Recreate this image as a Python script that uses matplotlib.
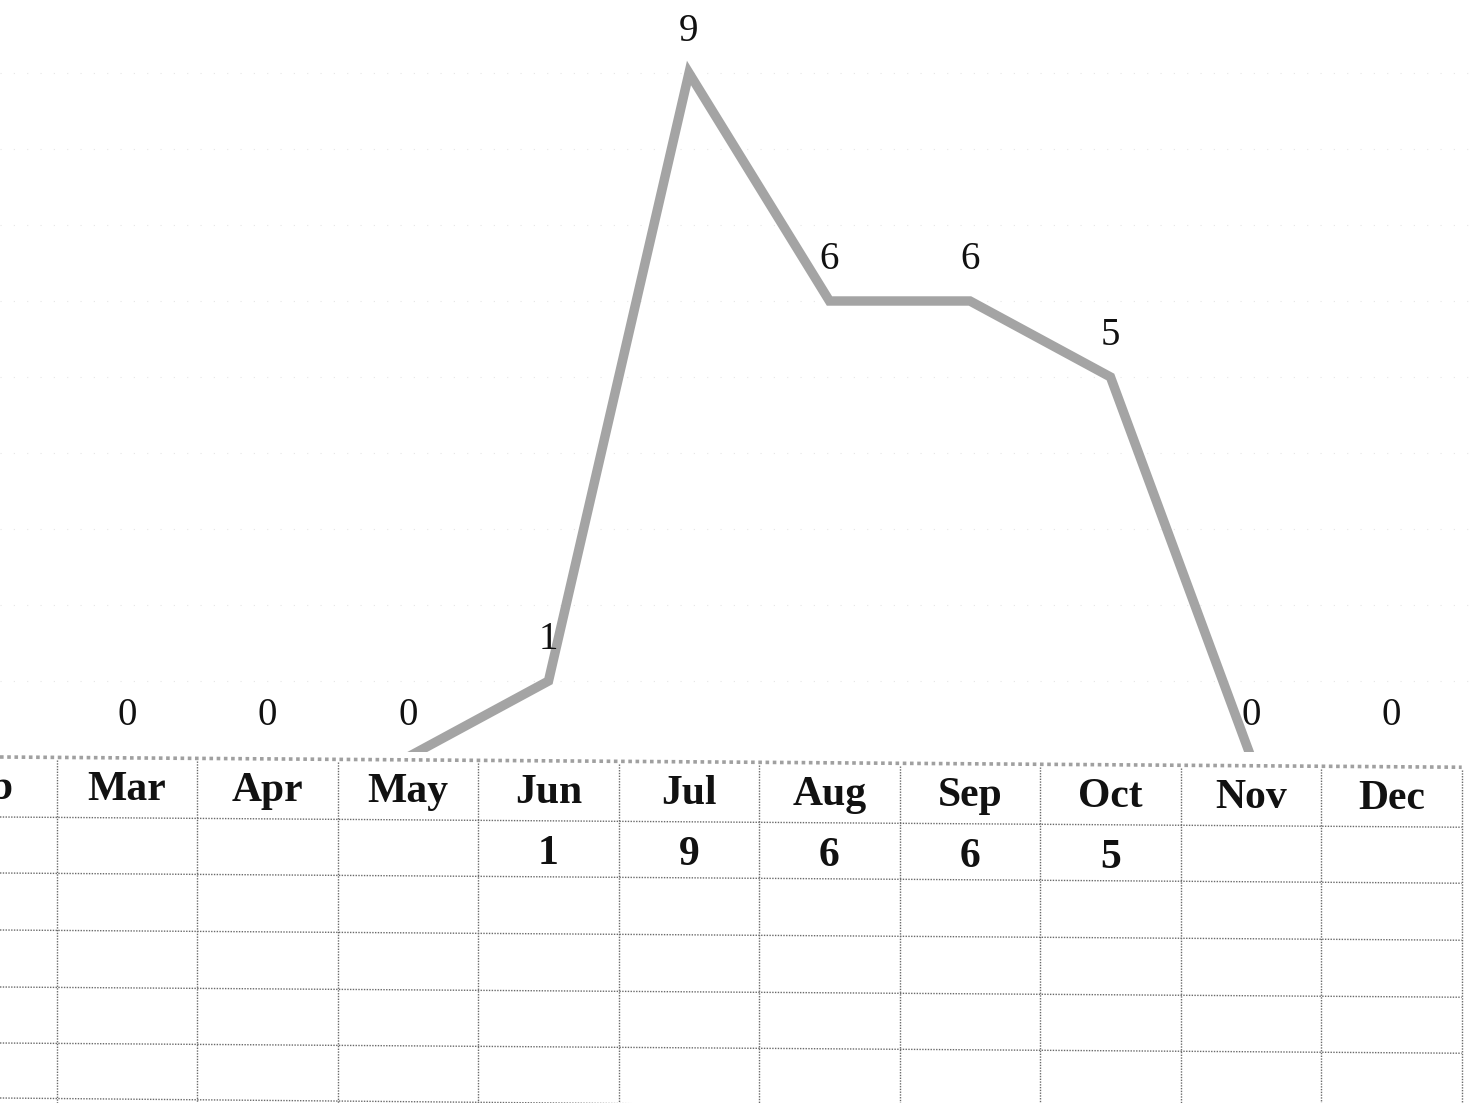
import matplotlib
matplotlib.use("Agg")
import matplotlib.pyplot as plt

# Monthly counts (Feb is only partly in frame on the left edge)
months = ["Feb", "Mar", "Apr", "May", "Jun", "Jul", "Aug", "Sep", "Oct", "Nov", "Dec"]
counts = [0, 0, 0, 0, 1, 9, 6, 6, 5, 0, 0]
month_pos = list(range(1, 12))  # Jan would be 0

W, H = 1469, 1103
fig = plt.figure(figsize=(W / 100, H / 100), dpi=100)
fig.patch.set_facecolor("white")

X_LO, X_HI = 1.096, 11.552      # visible month range across the page
COL_W = W / (X_HI - X_LO)        # pixels per month column
PX_PER_UNIT = 76.0               # vertical scale of the chart
CHART_BOTTOM_PX = 752            # chart area bottom (from top of page)
Y_LO = 5 / PX_PER_UNIT
Y_HI = Y_LO + CHART_BOTTOM_PX / PX_PER_UNIT

serif = ["Liberation Serif", "DejaVu Serif"]

# ---- line chart ----
ax = fig.add_axes([0, (H - CHART_BOTTOM_PX) / H, 1, CHART_BOTTOM_PX / H])
ax.set_xlim(X_LO, X_HI)
ax.set_ylim(Y_LO, Y_HI)
ax.axis("off")

for g in range(1, 10):
    ax.axhline(g, color="#e6e6e6", lw=0.8, ls=(0, (1, 11)), zorder=1)

ax.plot(month_pos, counts, color="#a4a4a4", lw=6.8, solid_joinstyle="miter",
        solid_capstyle="butt", zorder=3)

for x, v in zip(month_pos, counts):
    if x - X_LO < 0.5:
        continue  # label would sit outside the page
    ax.annotate(str(v), (x, v), xytext=(0, 30), textcoords="offset points",
                ha="center", va="center", fontsize=28, family=serif,
                color="#111111", annotation_clip=False, zorder=4)

# ---- data table below the chart ----
tb = fig.add_axes([0, 0, 1, 1], zorder=-1)
tb.set_xlim(X_LO, X_HI)
tb.set_ylim(H, 0)
tb.axis("off")

SKEW = 0.007  # slight tilt of the table rows


def ypx(x, y_left, skew=SKEW):
    return y_left + skew * (x - X_LO) * COL_W


row_lines = [817, 873, 930, 987, 1043]
x0, x1 = X_LO, 11.5
tb.plot([x0, x1], [ypx(x0, 757), ypx(x1, 757)], color="#a0a0a0", lw=2.6,
        ls=(0, (1, 1)))
for r in row_lines:
    tb.plot([x0, x1], [ypx(x0, r), ypx(x1, r)], color="#6a6a6a", lw=1.0,
            ls=(0, (1, 1)))
tb.plot([x0, x1], [ypx(x0, 1098, 0.009), ypx(x1, 1098, 0.009)],
        color="#6a6a6a", lw=1.0, ls=(0, (1, 1)))
for k in range(1, 12):
    xb = k + 0.5
    tb.plot([xb, xb], [ypx(xb, 760), H + 5], color="#6a6a6a", lw=1.0,
            ls=(0, (1, 1)))

for x, m, v in zip(month_pos, months, counts):
    tb.text(x - (0.05 if x - X_LO < 0.5 else 0), ypx(x, 789), m,
            ha="center", va="center", fontsize=30,
            fontweight="bold", family=serif, color="#111111")
    if v:
        tb.text(x, ypx(x, 850), str(v), ha="center", va="center", fontsize=30,
                fontweight="bold", family=serif, color="#111111")

fig.savefig("out.png", dpi=100, facecolor="white")
